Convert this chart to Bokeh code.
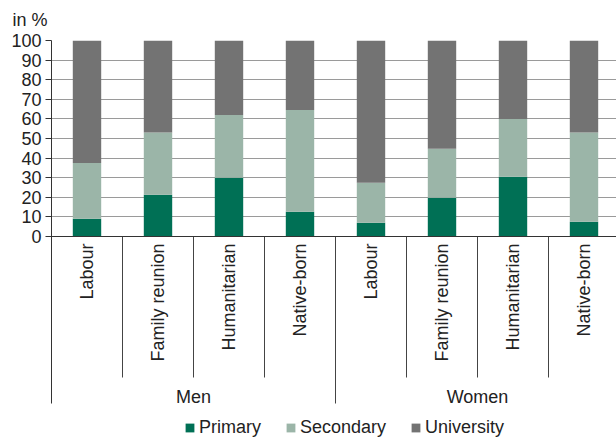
import numpy as np
from bokeh.plotting import figure
from bokeh.models import (Range1d, FixedTicker, Span, Title, Legend, LegendItem,
                          ColumnDataSource)
from bokeh.core.properties import value
from bokeh.embed import file_html
from bokeh.resources import INLINE

# ---- data ----
groups = ["Men", "Women"]
categories = ["Labour", "Family reunion", "Humanitarian", "Native-born"]
primary = [9.0, 21.3, 30.0, 12.6, 7.0, 19.8, 30.5, 7.5]
secondary = [28.5, 31.7, 32.0, 52.0, 20.4, 25.0, 29.5, 45.5]
university = [62.5, 47.0, 38.0, 35.4, 72.6, 55.2, 40.0, 47.0]
series_names = ["Primary", "Secondary", "University"]
y_ticks = [0, 10, 20, 30, 40, 50, 60, 70, 80, 90, 100]

# ---- layout (canvas pixels) ----
W, H = 616, 438
FRAME_LEFT = 51
CAT_PX = 71
Y0_PX, Y100_PX = 236, 40
PPU = (Y0_PX - Y100_PX) / 100.0
FONT = "Liberation Sans"
TXT = "#222222"
colors = ["#007055", "#9bb5a8", "#737373"]


def ydata(py):
    return (Y0_PX - py) / PPU


def xdata(px):
    return (px - FRAME_LEFT) / CAT_PX


labels = [c for g in groups for c in categories]
n = len(labels)
xs = np.arange(n) + 0.5
src = ColumnDataSource(dict(x=xs, primary=primary, secondary=secondary,
                            university=university, label=labels))

p = figure(width=W, height=H, output_backend="svg", toolbar_location=None,
           x_range=Range1d(0, xdata(W)),
           y_range=Range1d(ydata(H), 100),
           x_axis_location=None, y_axis_location="left",
           min_border_left=FRAME_LEFT, min_border_right=0,
           min_border_top=Y100_PX, min_border_bottom=0)
p.outline_line_color = None
p.xgrid.visible = False

p.add_layout(Title(text="in %", align="left", offset=12 - FRAME_LEFT, standoff=17,
                   vertical_align="top",
                   text_font=FONT, text_font_size="18px", text_font_style="normal",
                   text_color=TXT), "above")

# y axis
ya = p.yaxis[0]
ya.ticker = FixedTicker(ticks=y_ticks)
ya.bounds = (ydata(403), 100)
ya.axis_line_color = "#333333"
ya.major_tick_line_color = "#333333"
ya.major_tick_out = 6
ya.major_tick_in = 0
ya.minor_tick_out = 0
ya.minor_tick_in = 0
ya.major_label_standoff = 4
ya.major_label_text_font = FONT
ya.major_label_text_font_size = "18px"
ya.major_label_text_color = TXT
p.ygrid.grid_line_color = "#9a9a9a"
p.ygrid.grid_line_width = 1

rs = p.vbar_stack(["primary", "secondary", "university"], x="x", width=0.4,
                  source=src, color=colors, line_color=None)

p.add_layout(Span(location=0, dimension="width", line_color="#333333", line_width=1))

# separators
inner = [i for i in range(1, n) if i % len(categories) != 0]
outer = [i for i in range(1, n + 1) if i % len(categories) == 0]
p.segment(x0=inner, y0=[0] * len(inner), x1=inner, y1=[ydata(377)] * len(inner),
          line_color="#444444", line_width=1)
p.segment(x0=outer, y0=[0] * len(outer), x1=outer, y1=[ydata(403)] * len(outer),
          line_color="#444444", line_width=1)

# category labels
p.text(x="x", y=ydata(243), text="label", source=src, angle=np.pi / 2,
       text_align="right", text_baseline="middle", text_font=value(FONT),
       text_font_size="18px", text_color=TXT)

# group labels
gx = [len(categories) * (i + 0.5) for i in range(len(groups))]
p.text(x=gx, y=[ydata(396)] * len(groups), text=groups, text_align="center",
       text_baseline="middle", text_font=value(FONT), text_font_size="18px",
       text_color=TXT)

legend = Legend(items=[LegendItem(label=nm, renderers=[r]) for nm, r in zip(series_names, rs)],
                orientation="horizontal", location=(184 - FRAME_LEFT, 0),
                glyph_width=11, glyph_height=11, label_standoff=4, spacing=24,
                padding=0, margin=0, border_line_color=None, background_fill_alpha=0,
                label_text_font=FONT, label_text_font_size="18px", label_text_color=TXT)
p.add_layout(legend)

open("out.html", "w").write(file_html(p, INLINE))
